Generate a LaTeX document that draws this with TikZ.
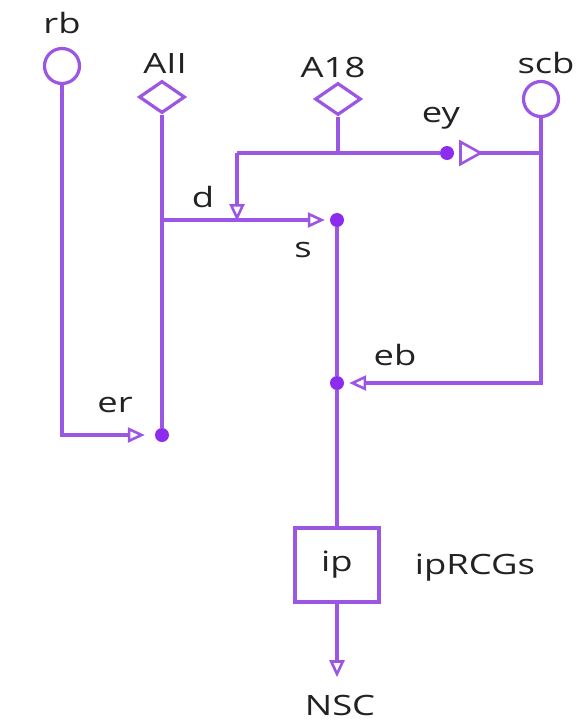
\documentclass[tikz,border=0pt]{standalone}
\usepackage{fontspec}
\setmainfont{Open Sans}[FakeStretch=1.3]
\usetikzlibrary{arrows.meta,shapes.geometric}

\definecolor{wire}{RGB}{156,86,228}
\definecolor{junction}{RGB}{140,44,238}
\definecolor{ink}{RGB}{34,34,34}

\tikzset{
	wire/.style={draw=wire, line width=3.2pt},
	flow/.style={wire, -{Triangle[open,length=17pt,width=15pt,line width=2.6pt,fill=white]}, shorten >=5pt},
	dot/.style={circle, fill=junction, inner sep=0pt, minimum size=14pt},
	port/.style={wire, circle, minimum size=35pt, inner sep=0pt},
	gate/.style={wire, diamond, minimum width=46pt, minimum height=32pt, inner sep=0pt, aspect=1.4},
	unit/.style={wire, rectangle, minimum width=84pt, minimum height=74pt},
	lbl/.style={text=ink, font=\fontsize{28}{32}\selectfont}
}

\begin{document}
\begin{tikzpicture}[x=1pt, y=-1pt]

		\useasboundingbox (0,0) rectangle (576,721);

		% Inputs
		\node[port] (rb)  at (62,66)  {};
		\node[gate] (AII) at (162,97) {};
		\node[gate] (A18) at (338,99) {};
		\node[port] (scb) at (541,99) {};

		% Labels
		\node[lbl] at (62,23)   {rb};
		\node[lbl] at (165,63)  {AII};
		\node[lbl] at (333,67)  {A18};
		\node[lbl] at (546,63)  {scb};
		\node[lbl] at (441,118) {ey};
		\node[lbl] at (203,197) {d};
		\node[lbl] at (303,250) {s};
		\node[lbl] at (395,355) {eb};
		\node[lbl] at (115,405) {er};

		% Junctions
		\node[dot] (ey) at (447,153) {};
		\node[dot] (s)  at (337,220) {};
		\node[dot] (eb) at (337,383) {};
		\node[dot] (er) at (162,435) {};

		\coordinate (tl) at (237,153);
		\coordinate (dj) at (AII |- s);

		% Output
		\node[unit, lbl] (ip) at (337,565) {ip};
		\node[lbl] at (475,568) {ipRCGs};
		\node[lbl] (NSC) at (340,705) {NSC};

		% Wires
		\draw[flow, shorten >=10pt] (rb) |- (er);
		\draw[wire] (AII) -- (er);
		\draw[flow] (dj) -- (s);
		\draw[wire] (A18) -- (A18 |- tl);
		\draw[wire] (ey) -| (tl);
		\draw[flow, shorten >=0pt] (tl) -- ([yshift=-1pt]tl |- dj);
		\draw[wire, -{Triangle[open,reversed,length=24pt,width=26pt,line width=2.6pt,fill=white]}, shorten >=-1pt]
			(scb |- ey) -- ([xshift=6pt]ey.east);
		\draw[flow] (scb) |- (eb);
		\draw[wire] (s) -- (eb) -- (ip);
		\draw[flow, shorten >=14pt] (ip) -- (ip |- NSC.north);

	\end{tikzpicture}
\end{document}
